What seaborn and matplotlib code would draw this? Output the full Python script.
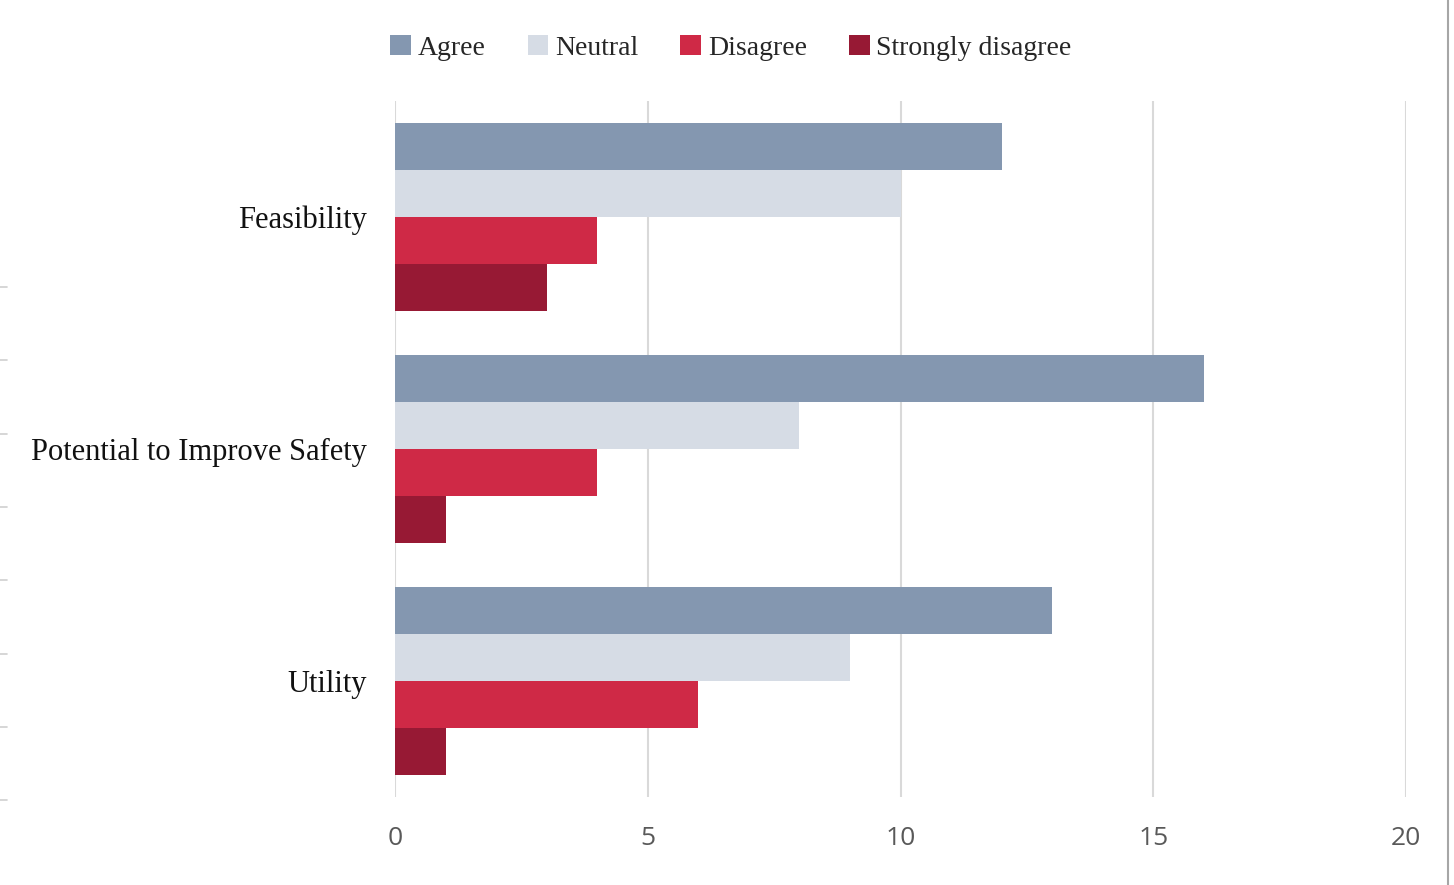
import matplotlib
matplotlib.use("Agg")
import matplotlib.pyplot as plt
import seaborn as sns
import pandas as pd
from matplotlib.patches import Patch
from matplotlib.lines import Line2D

# Survey responses per criterion
criteria = ["Feasibility", "Potential to Improve Safety", "Utility"]
responses = ["Agree", "Neutral", "Disagree", "Strongly disagree"]
agree = [12, 16, 13]
neutral = [10, 8, 9]
disagree = [4, 4, 6]
strongly_disagree = [3, 1, 1]
x_ticks = [0, 5, 10, 15, 20]

colors = ["#8497B0", "#D6DCE5", "#CF2946", "#971934"]

rows = []
for i, c in enumerate(criteria):
    for r, vals in zip(responses, [agree, neutral, disagree, strongly_disagree]):
        rows.append({"criterion": c, "response": r, "count": vals[i]})
df = pd.DataFrame(rows)

sns.set_theme(style="white")
fig = plt.figure(figsize=(14.54, 8.85), dpi=100)
ax = fig.add_axes([395 / 1454, 88 / 885, (1406 - 395) / 1454, 696 / 885])

sns.barplot(data=df, y="criterion", x="count", hue="response",
            hue_order=responses, order=criteria, palette=colors,
            orient="h", width=0.81, gap=0, saturation=1, ax=ax,
            legend=False, edgecolor="none", linewidth=0)

ax.set_xlim(0, 20)
ax.set_ylim(2.5, -0.5)
ax.set_xticks(x_ticks)
ax.set_xticklabels([str(t) for t in x_ticks],
                   family=["Liberation Sans Narrow", "Open Sans"],
                   fontsize=19, color="#595959")
ax.tick_params(axis="x", length=0, pad=21)
ax.tick_params(axis="y", length=0, pad=20)
for lbl in ax.get_yticklabels():
    lbl.set_family(["Liberation Serif", "DejaVu Serif"])
    lbl.set_fontsize(22)
    lbl.set_color("#111111")
ax.set_xlabel("")
ax.set_ylabel("")
ax.grid(axis="x", color="#D9D9D9", linewidth=1.5)
ax.set_axisbelow(True)
for s in ax.spines.values():
    s.set_visible(False)

handles = [Patch(facecolor=c, edgecolor="none", label=r) for c, r in zip(colors, responses)]
fig.legend(handles=handles, loc="center", bbox_to_anchor=(731 / 1454, 1 - 48 / 885),
           ncol=4, frameon=False, handlelength=0.75, handleheight=0.75,
           handletextpad=0.25, columnspacing=1.5,
           prop={"family": ["Liberation Serif", "DejaVu Serif"], "size": 20})

# Frame line on the right edge
fig.add_artist(Line2D([1448 / 1454, 1448 / 1454], [0, 1], transform=fig.transFigure,
                      color="#A6A6A6", linewidth=1.5))

# Tick stubs of the neighbouring panel along the left edge
for k in range(8):
    yy = 1 - (287 + k * 73.3) / 885
    fig.add_artist(Line2D([0, 7 / 1454], [yy, yy], transform=fig.transFigure,
                          color="#D0D0D0", linewidth=1.2))

fig.savefig("out.png", dpi=100, facecolor="white")
